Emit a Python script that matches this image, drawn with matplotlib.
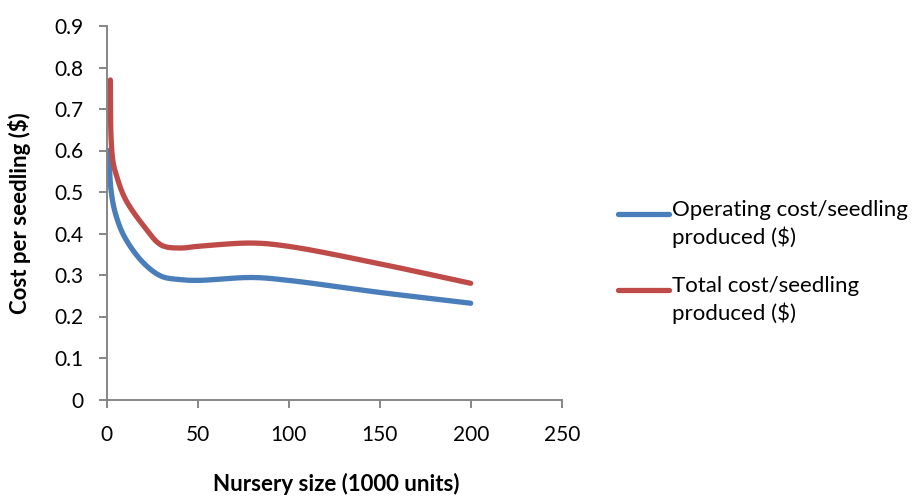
import matplotlib
matplotlib.use("Agg")
import matplotlib.pyplot as plt
from matplotlib.lines import Line2D
import numpy as np

# nursery size (1000 units) and cost per seedling ($)
size_operating = [1, 2.5, 5, 10, 20, 30, 40, 50, 80, 100, 150, 200]
operating_cost = [0.60, 0.50, 0.445, 0.39, 0.33, 0.297, 0.289, 0.287,
                  0.294, 0.287, 0.258, 0.232]
size_total = [2, 2.4, 3.5, 5, 10, 20, 30, 40, 50, 80, 100, 150, 200]
total_cost = [0.77, 0.63, 0.572, 0.545, 0.485, 0.42, 0.372, 0.365, 0.369,
              0.377, 0.369, 0.327, 0.28]

series_labels = ["Operating cost/seedling\nproduced ($)",
                 "Total cost/seedling\nproduced ($)"]
colors = ["#4a7ebb", "#be4b48"]

XMAX, YMAX = 250, 0.9
W, H = 913, 497
AX_L, AX_R, AX_T, AX_B = 106.7, 561.7, 26.0, 399.5   # axes box in pixels


def smooth(xs, ys, n=30):
    """Centripetal Catmull-Rom through the points, computed in pixel-like
    units so the curve bends the way it does on screen."""
    sx = (AX_R - AX_L) / XMAX
    sy = (AX_B - AX_T) / YMAX
    P = np.column_stack([np.asarray(xs, float) * sx, np.asarray(ys, float) * sy])
    # phantom end points
    P = np.vstack([2 * P[0] - P[1], P, 2 * P[-1] - P[-2]])
    out = [P[1]]
    for i in range(1, len(P) - 2):
        p0, p1, p2, p3 = P[i - 1], P[i], P[i + 1], P[i + 2]
        t0 = 0.0
        t1 = t0 + np.linalg.norm(p1 - p0) ** 0.5
        t2 = t1 + np.linalg.norm(p2 - p1) ** 0.5
        t3 = t2 + np.linalg.norm(p3 - p2) ** 0.5
        t = np.linspace(t1, t2, n)[1:, None]
        a1 = (t1 - t) / (t1 - t0) * p0 + (t - t0) / (t1 - t0) * p1
        a2 = (t2 - t) / (t2 - t1) * p1 + (t - t1) / (t2 - t1) * p2
        a3 = (t3 - t) / (t3 - t2) * p2 + (t - t2) / (t3 - t2) * p3
        b1 = (t2 - t) / (t2 - t0) * a1 + (t - t0) / (t2 - t0) * a2
        b2 = (t3 - t) / (t3 - t1) * a2 + (t - t1) / (t3 - t1) * a3
        c = (t2 - t) / (t2 - t1) * b1 + (t - t1) / (t2 - t1) * b2
        out.extend(c)
    out = np.array(out)
    return out[:, 0] / sx, out[:, 1] / sy


plt.rcParams["font.family"] = ["Lato", "DejaVu Sans"]

fig = plt.figure(figsize=(W / 100, H / 100), dpi=100)
ax = fig.add_axes([AX_L / W, 1 - AX_B / H, (AX_R - AX_L) / W, (AX_B - AX_T) / H])

series = [(size_operating, operating_cost), (size_total, total_cost)]
for (xs, ys), c in zip(series, colors):
    cx, cy = smooth(xs, ys)
    ax.plot(cx, cy, color=c, lw=3.8, solid_capstyle="round", clip_on=False)

ax.set_xlim(0, XMAX)
ax.set_ylim(0, YMAX)
ax.set_xticks(np.arange(0, 251, 50))
ax.set_yticks(np.round(np.arange(0, 0.91, 0.1), 1))
ax.set_yticklabels(["0"] + [f"{v:.1f}" for v in np.arange(0.1, 0.91, 0.1)])

for s in ("top", "right"):
    ax.spines[s].set_visible(False)
for s in ("left", "bottom"):
    ax.spines[s].set_color("#868686")
    ax.spines[s].set_linewidth(1.4)
ax.tick_params(direction="out", length=5.5, width=1.4, color="#868686",
               labelsize=15, labelcolor="black")
ax.tick_params(axis="x", pad=13)
ax.tick_params(axis="y", pad=11)

ax.set_xlabel("Nursery size (1000 units)", fontsize=16, fontweight="bold")
ax.xaxis.label.set_va("center")
ax.xaxis.set_label_coords(0.505, -(484 - AX_B) / (AX_B - AX_T))
ax.set_ylabel("Cost per seedling ($)", fontsize=16, fontweight="bold")
ax.yaxis.label.set_va("center")
ax.yaxis.set_label_coords(-(AX_L - 19) / (AX_R - AX_L), 0.5)

# legend: handle beside the first line of each two-line label
for lab, c, yline, ytop in zip(series_labels, colors, [214, 290], [200, 276]):
    fig.add_artist(Line2D([618 / W, 669 / W], [1 - yline / H, 1 - yline / H],
                          color=c, lw=3.8, solid_capstyle="round"))
    fig.text(672 / W, 1 - ytop / H, lab, fontsize=16, va="top",
             ha="left", linespacing=1.4)

fig.savefig("out.png", dpi=100)
